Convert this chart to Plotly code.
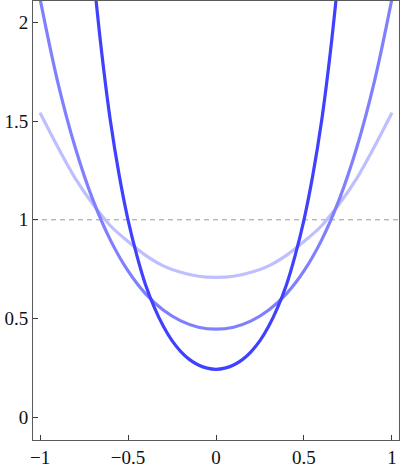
import plotly.graph_objects as go

# values (curves are symmetric about x = 0)
x_light = [-1.0, -0.9, -0.8, -0.7, -0.6, -0.5, -0.4, -0.3, -0.2, -0.1, 0.0,
           0.1, 0.2, 0.3, 0.4, 0.5, 0.6, 0.7, 0.8, 0.9, 1.0]
y_light = [1.542, 1.37, 1.21, 1.08, 0.97, 0.89, 0.82, 0.767, 0.734, 0.714, 0.708,
           0.714, 0.734, 0.767, 0.82, 0.89, 0.97, 1.08, 1.21, 1.37, 1.542]

x_mid = [-1.0, -0.9, -0.8, -0.7, -0.6, -0.5, -0.4, -0.3, -0.2, -0.1, 0.0,
         0.1, 0.2, 0.3, 0.4, 0.5, 0.6, 0.7, 0.8, 0.9, 1.0]
y_mid = [2.12, 1.70, 1.366, 1.102, 0.897, 0.741, 0.625, 0.543, 0.488, 0.456, 0.446,
         0.456, 0.488, 0.543, 0.625, 0.741, 0.897, 1.102, 1.366, 1.70, 2.12]

x_dark = [-0.7, -0.65, -0.6, -0.55, -0.5, -0.45, -0.4, -0.35, -0.3, -0.25, -0.2,
          -0.15, -0.1, -0.05, 0.0, 0.05, 0.1, 0.15, 0.2, 0.25, 0.3, 0.35, 0.4,
          0.45, 0.5, 0.55, 0.6, 0.65, 0.7]
y_dark = [2.27, 1.85, 1.50, 1.225, 1.0, 0.82, 0.67, 0.555, 0.462, 0.388, 0.333,
          0.292, 0.265, 0.249, 0.243, 0.249, 0.265, 0.292, 0.333, 0.388, 0.462, 0.555, 0.67,
          0.82, 1.0, 1.225, 1.50, 1.85, 2.27]

ref_level = 1

series = [
    (x_light, y_light, "rgb(191,191,255)"),
    (x_mid, y_mid, "rgb(128,128,255)"),
    (x_dark, y_dark, "rgb(64,64,255)"),
]

fig = go.Figure()
fig.add_hline(y=ref_level, line=dict(color="#9a9a9a", width=1, dash="5px,4px"), layer="below")
for xs, ys, col in series:
    fig.add_trace(go.Scatter(x=xs, y=ys, mode="lines",
                             line=dict(color=col, width=3.2, shape="spline", smoothing=1.0),
                             showlegend=False, hoverinfo="skip"))

axis_style = dict(showgrid=False, zeroline=False, showline=True, mirror=True,
                  linecolor="#5a5a5a", linewidth=1, ticks="inside", ticklen=5,
                  tickcolor="#3a3a3a", tickwidth=1, automargin=False,
                  ticklabeloverflow="allow")

fig.update_xaxes(range=[-1.04, 1.04], tickvals=[-1, -0.5, 0, 0.5, 1], **axis_style)
fig.update_yaxes(range=[-0.115, 2.108], tickvals=[0, 0.5, 1, 1.5, 2], **axis_style)

fig.update_layout(
    width=402, height=475,
    margin=dict(l=33, r=3, t=1, b=35, autoexpand=False),
    paper_bgcolor="white", plot_bgcolor="white",
    font=dict(family="Liberation Serif, serif", size=19, color="#111"),
)

# page body has a default 8px margin; drop it so the figure sits at the top-left corner
fig.write_html("out.html", config={"displayModeBar": False},
               post_script="document.body.style.margin='0';")
